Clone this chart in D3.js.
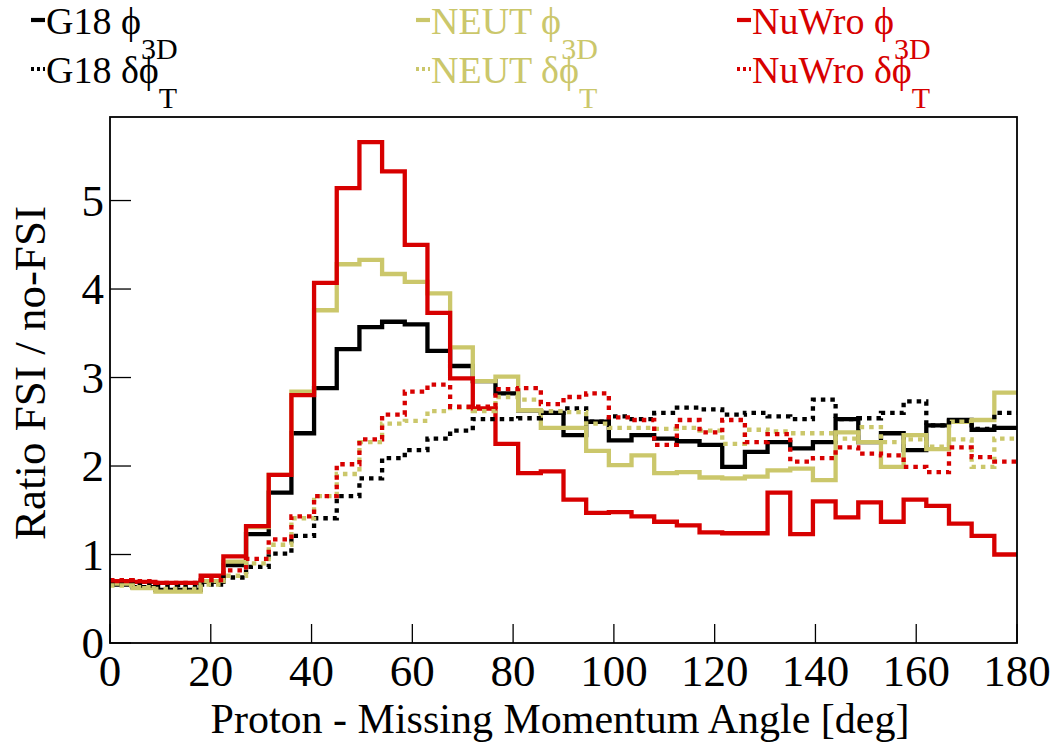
<!DOCTYPE html>
<html><head><meta charset="utf-8">
<script src="https://cdn.jsdelivr.net/npm/d3@7/dist/d3.min.js"></script>
<style>body{margin:0;background:#fff}svg{display:block}</style>
</head><body>
<svg id="c" width="1052" height="744"></svg>
<script>
// ---- data ----
const xMin = 0, xMax = 180, binWidth = 4.5;
const xTicks = [0, 20, 40, 60, 80, 100, 120, 140, 160, 180];
const yTicks = [0, 1, 2, 3, 4, 5];
const yMax = 5.944;
const xTitle = "Proton - Missing Momentum Angle [deg]";
const yTitle = "Ratio FSI / no-FSI";

const g18Phi3D = [0.66,0.63,0.60,0.60,0.69,0.88,1.23,1.70,2.37,2.88,3.32,3.57,3.63,3.60,3.30,3.13,2.96,2.82,2.63,2.60,2.35,2.50,2.29,2.35,2.31,2.28,2.24,1.99,2.16,2.27,2.20,2.27,2.53,2.27,2.37,2.18,2.46,2.52,2.41,2.43];
const neutPhi3D = [0.67,0.62,0.58,0.58,0.70,0.92,1.31,1.90,2.84,3.76,4.28,4.33,4.17,4.08,3.95,3.34,2.96,3.01,2.63,2.43,2.43,2.17,2.01,2.12,1.92,1.93,1.87,1.86,1.88,1.95,1.97,1.84,2.38,2.27,1.99,2.35,2.19,2.50,2.52,2.83];
const nuwroPhi3D = [0.70,0.69,0.68,0.68,0.76,0.98,1.32,1.90,2.80,4.07,5.14,5.66,5.33,4.50,3.73,2.99,2.65,2.25,1.92,1.94,1.62,1.47,1.48,1.43,1.37,1.33,1.25,1.24,1.24,1.70,1.23,1.60,1.42,1.59,1.37,1.62,1.55,1.35,1.21,1.00];
const g18DPhiT = [0.66,0.65,0.64,0.63,0.66,0.74,0.86,1.01,1.21,1.41,1.66,1.86,2.09,2.18,2.31,2.40,2.53,2.53,2.54,2.60,2.65,2.50,2.56,2.53,2.60,2.66,2.64,2.58,2.60,2.56,2.53,2.75,2.53,2.54,2.60,2.73,2.46,2.51,2.42,2.60];
const neutDPhiT = [0.65,0.63,0.61,0.61,0.66,0.76,0.90,1.11,1.41,1.66,1.91,2.27,2.48,2.51,2.62,2.66,2.62,2.78,2.75,2.62,2.61,2.48,2.43,2.43,2.42,2.43,2.40,2.25,2.41,2.39,2.37,2.37,2.31,2.44,2.27,2.30,2.22,2.30,1.99,2.31];
const nuwroDPhiT = [0.71,0.70,0.68,0.68,0.71,0.82,0.95,1.17,1.43,1.66,2.02,2.30,2.58,2.84,2.92,2.67,2.67,2.87,2.88,2.70,2.78,2.82,2.55,2.52,2.24,2.52,2.38,2.52,2.27,2.36,2.05,2.09,2.21,2.14,2.12,1.99,1.93,2.21,2.10,2.05];

const generators = ["G18", "NEUT", "NuWro"];
const genColors = ["#000000", "#cbc76b", "#d70000"];
const variables = ["ϕ", "δϕ"];
const varSubs = ["3D", "T"];
const seriesTable = [
  {gen: 0, v: 0, values: g18Phi3D},
  {gen: 1, v: 0, values: neutPhi3D},
  {gen: 2, v: 0, values: nuwroPhi3D},
  {gen: 0, v: 1, values: g18DPhiT},
  {gen: 1, v: 1, values: neutDPhiT},
  {gen: 2, v: 1, values: nuwroDPhiT}
];

// ---- layout ----
const svg = d3.select("#c");
const L = 110, R = 1017, T = 117, B = 643;
const x = d3.scaleLinear().domain([xMin, xMax]).range([L, R]);
const y = d3.scaleLinear().domain([0, yMax]).range([B, T]);
const font = "'Liberation Serif', 'Times New Roman', serif";

// histograms
const line = d3.line().x(d => x(d[0])).y(d => y(d[1])).curve(d3.curveStepAfter);
const plot = svg.append("g");
seriesTable.forEach(s => {
  const pts = s.values.map((v, i) => [xMin + i * binWidth, v]);
  pts.push([xMax, s.values[s.values.length - 1]]);
  plot.append("path")
    .attr("d", line(pts))
    .attr("fill", "none")
    .attr("stroke", genColors[s.gen])
    .attr("stroke-width", 4.3)
    .attr("stroke-linejoin", "miter")
    .attr("stroke-dasharray", s.v === 1 ? "4.5 5" : null);
});

// frame
svg.append("rect").attr("x", L).attr("y", T).attr("width", R - L).attr("height", B - T)
  .attr("fill", "none").attr("stroke", "#000").attr("stroke-width", 1.8);

// x axis
const xAxis = svg.append("g");
xTicks.forEach(t => {
  xAxis.append("line").attr("x1", x(t)).attr("x2", x(t)).attr("y1", B).attr("y2", B - 19)
    .attr("stroke", "#000").attr("stroke-width", 1.3);
  xAxis.append("text").attr("x", x(t)).attr("y", 686).attr("text-anchor", "middle")
    .attr("font-family", font).attr("font-size", 45).text(t);
});
// y axis
const yAxis = svg.append("g");
yTicks.forEach(t => {
  yAxis.append("line").attr("x1", L).attr("x2", L + 21).attr("y1", y(t)).attr("y2", y(t))
    .attr("stroke", "#000").attr("stroke-width", 1.3);
  yAxis.append("text").attr("x", 104).attr("y", y(t) + 15).attr("text-anchor", "end")
    .attr("font-family", font).attr("font-size", 45).text(t);
});

// titles
svg.append("text").attr("x", 560).attr("y", 733).attr("text-anchor", "middle")
  .attr("font-family", font).attr("font-size", 42).text(xTitle);
svg.append("text").attr("transform", "translate(45,373) rotate(-90)").attr("text-anchor", "middle")
  .attr("font-family", font).attr("font-size", 45).text(yTitle);

// legend
const colX = [31, 416, 737];
const rowY = [34, 83];
const leg = svg.append("g").attr("font-family", font);
seriesTable.forEach(s => {
  const cx = colX[s.gen], by = rowY[s.v];
  const col = genColors[s.gen];
  leg.append("line").attr("x1", cx).attr("x2", cx + 14).attr("y1", by - 14).attr("y2", by - 14)
    .attr("stroke", col).attr("stroke-width", 4.2)
    .attr("stroke-dasharray", s.v === 1 ? "3 3" : null);
  const t = leg.append("text").attr("x", cx + 15).attr("y", by).attr("font-size", 38).attr("fill", col);
  t.append("tspan").text(generators[s.gen] + " " + variables[s.v]);
  t.append("tspan").attr("dy", 25).attr("font-size", 30).text(varSubs[s.v]);
});
</script>
</body></html>
